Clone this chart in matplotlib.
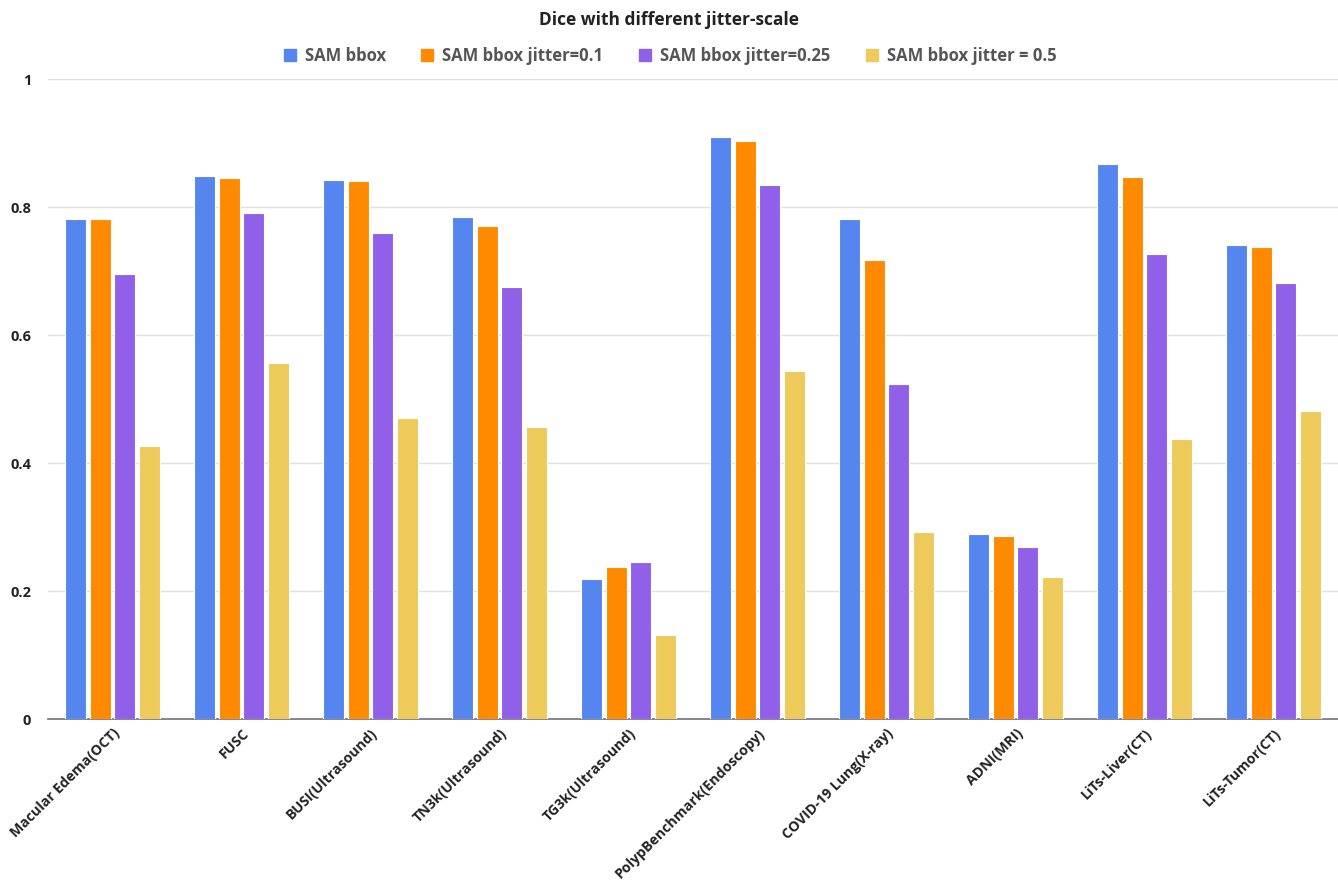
import numpy as np
import matplotlib
matplotlib.use("Agg")
import matplotlib.pyplot as plt
from matplotlib.lines import Line2D

plt.rcParams['font.family'] = ['Open Sans', 'DejaVu Sans']

#####################################################################
categories = ["Macular Edema(OCT)", "FUSC", "BUSI(Ultrasound)", "TN3k(Ultrasound)",
              "TG3k(Ultrasound)", "PolypBenchmark(Endoscopy)", "COVID-19 Lung(X-ray)",
              "ADNI(MRI)", "LiTs-Liver(CT)", "LiTs-Tumor(CT)"]

series_names = ["SAM bbox", "SAM bbox jitter=0.1", "SAM bbox jitter=0.25", "SAM bbox jitter = 0.5"]

sam_bbox = [0.781, 0.849, 0.843, 0.784, 0.218, 0.909, 0.782, 0.289, 0.867, 0.740]
jitter_01 = [0.781, 0.845, 0.840, 0.771, 0.237, 0.903, 0.718, 0.286, 0.847, 0.738]
jitter_025 = [0.695, 0.790, 0.759, 0.675, 0.245, 0.834, 0.523, 0.268, 0.726, 0.681]
jitter_05 = [0.426, 0.557, 0.470, 0.456, 0.132, 0.544, 0.292, 0.222, 0.438, 0.481]

colors = ["#5586F0", "#FF8A00", "#9160E8", "#EDCA5A"]

#####################################################################
fig = plt.figure(figsize=(13.38, 8.82), dpi=100)
ax = fig.add_axes([0.0359, 0.1848, 0.9641, 0.7256])

x = np.arange(len(categories))
data = [sam_bbox, jitter_01, jitter_025, jitter_05]
step = 0.191
for i, vals in enumerate(data):
	ax.bar(x + (i - 1.5) * step, vals, width=step * 0.86, color=colors[i],
	       edgecolor="white", linewidth=0.8, zorder=3)

ax.set_xlim(-0.5, len(categories) - 0.5)
ax.set_ylim(0, 1)
ax.set_yticks([0, 0.2, 0.4, 0.6, 0.8, 1.0])
ax.set_yticklabels(["0", "0.2", "0.4", "0.6", "0.8", "1"])
ax.grid(axis="y", color="#E0E0E0", linewidth=1, zorder=0)
ax.set_axisbelow(True)

for s in ["top", "right", "left"]:
	ax.spines[s].set_visible(False)
ax.spines["bottom"].set_color("#6E7079")
ax.spines["bottom"].set_linewidth(1.2)

ax.tick_params(axis="y", length=0, pad=12, labelsize=10.5, labelcolor="#222222")
ax.tick_params(axis="x", length=0, pad=5, labelsize=10.2, labelcolor="#222222")
for lab in ax.get_yticklabels():
	lab.set_fontweight("bold")

ax.set_xticks(x)
ax.set_xticklabels(categories, rotation=45, ha="right", rotation_mode="anchor",
                   fontweight="bold")

#####################################################################
fig.text(0.5, 0.977, "Dice with different jitter-scale", ha="center", va="center",
         fontsize=12.5, fontweight="bold", color="#222222")

handles = [Line2D([0], [0], marker="s", linestyle="none", markersize=8,
                  markerfacecolor=c, markeredgecolor=c) for c in colors]
leg = fig.legend(handles, series_names, loc="center", bbox_to_anchor=(0.5, 0.937),
                 ncol=4, frameon=False, fontsize=12, handletextpad=0.4,
                 columnspacing=2.0, handlelength=1.0)
for t in leg.get_texts():
	t.set_color("#555555")
	t.set_fontweight("bold")

fig.savefig("out.png", dpi=100)
